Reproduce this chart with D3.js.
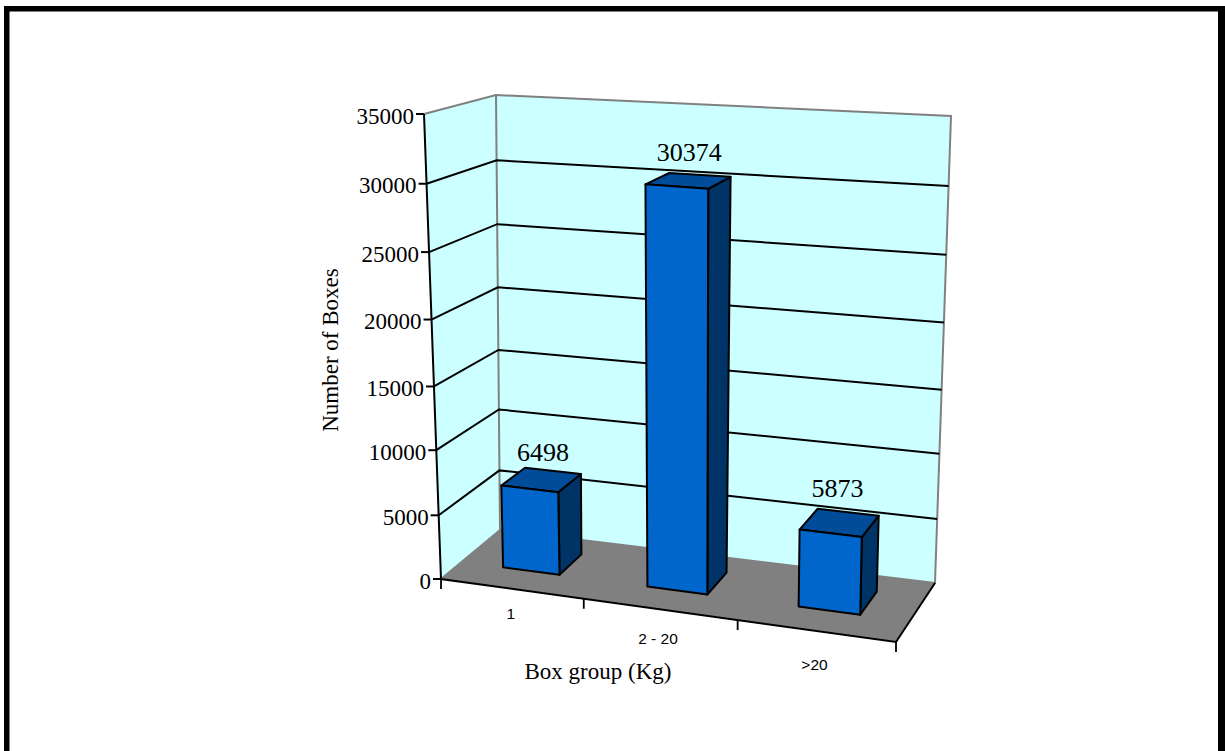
<!DOCTYPE html>
<html>
<head>
<meta charset="utf-8">
<script src="https://cdn.jsdelivr.net/npm/d3@7/dist/d3.min.js"></script>
<style>
html,body{margin:0;padding:0;background:#fff;overflow:hidden}
svg{display:block}
text{font-family:"Liberation Serif","Times New Roman",serif;fill:#000}
</style>
</head>
<body>
<script>
// Chart content
const categories = ["1", "2 - 20", ">20"];
const boxCounts = [6498, 30374, 5873];
const valueTicks = [0, 5000, 10000, 15000, 20000, 25000, 30000, 35000];
const xAxisTitle = "Box group (Kg)";
const yAxisTitle = "Number of Boxes";

const width = 1225, height = 751;
const svg = d3.select("body").append("svg").attr("width", width).attr("height", height);

// Corners of the 3D chart box on screen: [across, up, depth]
const box = {
  "000": [441, 579], "100": [896, 642], "001": [500, 530], "101": [935, 583],
  "010": [424, 114], "110": [906, 148], "011": [496, 95],  "111": [951, 116]
};

// Scales map data onto the unit box; the non-linear parts give the foreshortening.
const across = d3.scalePow().exponent(1.055).domain([0, 1]).range([0, 1]);
const up = d3.scaleLinear().domain(valueTicks).range([0, 0.137, 0.277, 0.414, 0.558, 0.703, 0.85, 1]);
const band = d3.scaleBand().domain(categories).range([0.006, 0.994]).paddingInner(0.6).paddingOuter(0.3);
const depthFront = 0.35, depthBack = 0.75;

// Trilinear interpolation between the box corners
function project(u, v, w) {
  const out = [0, 0];
  for (const a of [0, 1]) for (const b of [0, 1]) for (const c of [0, 1]) {
    const k = (a ? u : 1 - u) * (b ? v : 1 - v) * (c ? w : 1 - w);
    const p = box[`${a}${b}${c}`];
    out[0] += k * p[0];
    out[1] += k * p[1];
  }
  return out;
}
const at = (x, value, w) => project(across(x), up(value), w);
const lineGen = d3.line();
const poly = pts => lineGen(pts) + "Z";
const vMax = 35000;

// Frame around the page
const frame = svg.append("g").attr("fill", "#000");
frame.append("rect").attr("x", 4).attr("y", 6).attr("width", 1221).attr("height", 5.5);
frame.append("rect").attr("x", 4).attr("y", 6).attr("width", 5.5).attr("height", 745);
frame.append("rect").attr("x", 1218).attr("y", 6).attr("width", 7).attr("height", 745);

// Walls and floor
const wallColor = "#ccffff", edgeGray = "#808080";
svg.append("path")
  .attr("d", poly([at(0, 0, 0), at(0, vMax, 0), at(0, vMax, 1), at(0, 0, 1)]))
  .attr("fill", wallColor);
svg.append("path")
  .attr("d", poly([at(0, 0, 1), at(0, vMax, 1), at(1, vMax, 1), at(1, 0, 1)]))
  .attr("fill", wallColor);
svg.append("path")
  .attr("d", poly([at(0, 0, 0), at(1, 0, 0), at(1, 0, 1), at(0, 0, 1)]))
  .attr("fill", "#808080");

// Gray outline of the walls
svg.append("path")
  .attr("d", lineGen([at(0, vMax, 0), at(0, vMax, 1), at(1, vMax, 1), at(1, 0, 1), at(0, 0, 1), at(0, 0, 0)]))
  .attr("fill", "none").attr("stroke", edgeGray).attr("stroke-width", 2);
svg.append("path")
  .attr("d", lineGen([at(0, vMax, 1), at(0, 0, 1)]))
  .attr("fill", "none").attr("stroke", edgeGray).attr("stroke-width", 2);

// Gridlines run along the left wall and across the back wall
svg.append("g").selectAll("path")
  .data(valueTicks.filter(t => t > 0 && t < vMax))
  .join("path")
  .attr("d", t => lineGen([at(0, t, 0), at(0, t, 1), at(1, t, 1)]))
  .attr("fill", "none").attr("stroke", "#000").attr("stroke-width", 2);

// Axes: value axis, front floor edge, right floor edge
svg.append("path")
  .attr("d", lineGen([at(0, vMax, 0), at(0, 0, 0), at(1, 0, 0), at(1, 0, 1)]))
  .attr("fill", "none").attr("stroke", "#000").attr("stroke-width", 2);

const yTicks = svg.append("g").selectAll("g").data(valueTicks).join("g");
yTicks.append("line")
  .attr("x1", t => at(0, t, 0)[0] - 8).attr("x2", t => at(0, t, 0)[0])
  .attr("y1", t => at(0, t, 0)[1]).attr("y2", t => at(0, t, 0)[1])
  .attr("stroke", "#000").attr("stroke-width", 2);
yTicks.append("text")
  .attr("x", t => at(0, t, 0)[0] - 10)
  .attr("y", t => at(0, t, 0)[1] + 9.5)
  .attr("text-anchor", "end")
  .attr("font-size", 23)
  .text(t => t);

// Category ticks sit on the band boundaries of the front edge
svg.append("g").selectAll("line")
  .data(d3.range(categories.length + 1))
  .join("line")
  .attr("x1", i => at(i / categories.length, 0, 0)[0])
  .attr("x2", i => at(i / categories.length, 0, 0)[0])
  .attr("y1", i => at(i / categories.length, 0, 0)[1])
  .attr("y2", i => at(i / categories.length, 0, 0)[1] + 10)
  .attr("stroke", "#000").attr("stroke-width", 1.8);

const labelDrop = d3.scaleLinear().domain([0, 1]).range([28, 42]);
const labelShift = d3.scaleLinear().domain([0, 0.5, 0.83]).range([0, -2, 0]);
svg.append("g").selectAll("text")
  .data(categories)
  .join("text")
  .attr("x", c => {
    const x = band(c) + band.bandwidth() / 2;
    return at(x, 0, 0)[0] + labelShift(x);
  })
  .attr("y", c => {
    const x = band(c) + band.bandwidth() / 2;
    return at(x, 0, 0)[1] + labelDrop(x);
  })
  .attr("text-anchor", "middle")
  .attr("font-size", 15.5)
  .style("font-family", "'Liberation Sans',Arial,sans-serif")
  .text(c => c);

// Bars: front, side and top faces
const rows = categories.map((c, i) => ({ c, value: boxCounts[i], i }));
const bars = svg.append("g").selectAll("g")
  .data(rows)
  .join("g")
  .attr("stroke", "#000").attr("stroke-width", 2).attr("stroke-linejoin", "round");
const x0 = d => band(d.c), x1 = d => band(d.c) + band.bandwidth();
bars.append("path")
  .attr("fill", "#003366")
  .attr("d", d => poly([at(x1(d), 0, depthFront), at(x1(d), d.value, depthFront), at(x1(d), d.value, depthBack), at(x1(d), 0, depthBack)]));
bars.append("path")
  .attr("fill", "#004c99")
  .attr("d", d => poly([at(x0(d), d.value, depthFront), at(x1(d), d.value, depthFront), at(x1(d), d.value, depthBack), at(x0(d), d.value, depthBack)]));
bars.append("path")
  .attr("fill", "#0066cc")
  .attr("d", d => poly([at(x0(d), 0, depthFront), at(x1(d), 0, depthFront), at(x1(d), d.value, depthFront), at(x0(d), d.value, depthFront)]));

// Value labels float above each bar's top face
const labelLift = [19, 20, 26];
const labelNudge = [2, 1, -2];
svg.append("g").selectAll("text")
  .data(rows)
  .join("text")
  .attr("x", d => at(band(d.c) + band.bandwidth() / 2, d.value, (depthFront + depthBack) / 2)[0] + labelNudge[d.i])
  .attr("y", d => at(band(d.c) + band.bandwidth() / 2, d.value, (depthFront + depthBack) / 2)[1] - labelLift[d.i])
  .attr("text-anchor", "middle")
  .attr("font-size", 26)
  .text(d => d.value);

// Axis titles
svg.append("text")
  .attr("x", 598).attr("y", 679)
  .attr("text-anchor", "middle").attr("font-size", 23)
  .text(xAxisTitle);
svg.append("text")
  .attr("transform", "translate(338,350) rotate(-90)")
  .attr("text-anchor", "middle").attr("font-size", 23)
  .text(yAxisTitle);
</script>
</body>
</html>
